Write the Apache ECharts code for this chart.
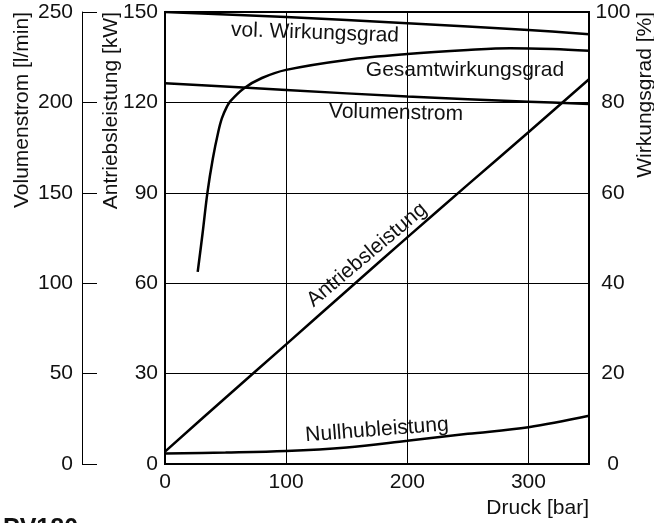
<!DOCTYPE html>
<html>
<head>
<meta charset="utf-8">
<style>
  html, body { margin: 0; padding: 0; background: #fff; }
  #chart { width: 654px; height: 523px; }
</style>
<script src="https://cdn.jsdelivr.net/npm/echarts@6/dist/echarts.min.js"></script>
</head>
<body>
<div id="chart"></div>
<script>
/* ---------- data ---------- */
const druckTicks = [0, 100, 200, 300]

// vol. Wirkungsgrad [%]
const druckVol = [0, 100, 200, 300, 350]
const volWirkungsgrad = [100, 98.9, 97.5, 96.0, 95.1]

// Gesamtwirkungsgrad [%]
const druckGesamt = [27, 31, 35, 39.5, 44, 47, 51, 54, 65, 80, 100, 150, 200, 250, 285, 320, 350]
const gesamtWirkungsgrad = [42.5, 51, 60, 67.6, 73.5, 76.5, 79, 80.3, 83.1, 85.4, 87.2, 89.4, 90.7, 91.6, 92.0, 91.8, 91.4]

// Volumenstrom [l/min]
const druckStrom = [0, 100, 200, 300, 350]
const volumenstrom = [210.6, 206.9, 203.2, 200.4, 199.1]

// Antriebsleistung [kW]
const druckLeistung = [0, 50, 100, 150, 200, 250, 300, 350]
const antriebsleistung = [4.1, 22, 39.7, 57.5, 75.2, 92.7, 110.1, 127.7]

// Nullhubleistung [kW]
const nullhubleistung = [3.5, 3.8, 4.3, 5.5, 7.7, 10.0, 12.2, 16.0]

/* ---------- style ---------- */
const FONT = '"Liberation Sans", Arial, Helvetica, sans-serif'
const FS = 21
const INK = '#111'

const pairs = (xs, ys) => xs.map((x, i) => [x, ys[i]])

function curve(name, data, yAxisIndex) {
  return {
    name,
    type: 'line',
    yAxisIndex,
    data,
    smooth: 0.35,
    symbol: 'none',
    lineStyle: { color: '#000', width: 2.5 },
    z: 5
  }
}

function text(str, x, y, opts = {}) {
  return {
    type: 'text',
    x, y,
    rotation: opts.rotation || 0,
    style: {
      text: str,
      font: (opts.bold ? 'bold ' : '') + (opts.size || FS) + 'px ' + FONT,
      fill: INK,
      align: opts.align || 'center',
      verticalAlign: opts.vAlign || 'middle'
    },
    z: 10
  }
}

const chart = echarts.init(document.getElementById('chart'), null, { renderer: 'canvas' })

chart.setOption({
  animation: false,
  backgroundColor: '#fff',
  grid: {
    left: 165, right: 65, top: 12, bottom: 59,
    show: true, borderColor: '#000', borderWidth: 2, backgroundColor: 'transparent'
  },
  xAxis: {
    type: 'value',
    min: 0, max: 350, interval: 100,
    axisLine: { lineStyle: { color: '#000', width: 2 } },
    axisTick: { show: false },
    axisLabel: {
      color: INK, fontFamily: FONT, fontSize: FS, margin: 8,
      showMaxLabel: false,
      formatter: (v) => (druckTicks.includes(v) ? String(v) : '')
    },
    splitLine: { show: true, lineStyle: { color: '#000', width: 1 } }
  },
  yAxis: [
    {
      // Antriebsleistung [kW]
      type: 'value', position: 'left',
      min: 0, max: 150, interval: 30,
      axisLine: { show: true, lineStyle: { color: '#000', width: 2 } },
      axisTick: { show: false },
      axisLabel: { color: INK, fontFamily: FONT, fontSize: FS, margin: 7 },
      splitLine: { show: true, lineStyle: { color: '#000', width: 1 } }
    },
    {
      // Wirkungsgrad [%]
      type: 'value', position: 'right',
      min: 0, max: 100, interval: 20,
      axisLine: { show: true, lineStyle: { color: '#000', width: 2 } },
      axisTick: { show: false },
      axisLabel: { color: INK, fontFamily: FONT, fontSize: FS, margin: 24, align: 'center' },
      splitLine: { show: false }
    },
    {
      // Volumenstrom [l/min]
      type: 'value', position: 'left', offset: 83,
      min: 0, max: 250, interval: 50,
      axisLine: { show: true, lineStyle: { color: '#000', width: 1 } },
      axisTick: { show: true, inside: true, length: 15, lineStyle: { color: '#000', width: 1 } },
      axisLabel: { color: INK, fontFamily: FONT, fontSize: FS, margin: 9 },
      splitLine: { show: false }
    }
  ],
  series: [
    curve('vol. Wirkungsgrad', pairs(druckVol, volWirkungsgrad), 1),
    curve('Gesamtwirkungsgrad', pairs(druckGesamt, gesamtWirkungsgrad), 1),
    curve('Volumenstrom', pairs(druckStrom, volumenstrom), 2),
    curve('Antriebsleistung', pairs(druckLeistung, antriebsleistung), 0),
    curve('Nullhubleistung', pairs(druckLeistung, nullhubleistung), 0)
  ],
  graphic: [
    // axis titles
    text('Volumenstrom [l/min]', 22, 12, { align: 'right', rotation: Math.PI / 2 }),
    text('Antriebsleistung [kW]', 111, 12, { align: 'right', rotation: Math.PI / 2 }),
    text('Wirkungsgrad [%]', 645, 12, { align: 'right', rotation: Math.PI / 2 }),
    text('Druck [bar]', 589, 508, { align: 'right' }),
    // curve labels
    text('vol. Wirkungsgrad', 315, 33, { rotation: -0.035 }),
    text('Gesamtwirkungsgrad', 465, 70),
    text('Volumenstrom', 396, 113, { rotation: -0.02 }),
    text('Antriebsleistung', 367, 255, { rotation: 0.70 }),
    text('Nullhubleistung', 377, 430, { rotation: 0.077 }),
    // model name (cut off at the bottom edge)
    text('PV180', 3, 517, { align: 'left', vAlign: 'top', bold: true, size: 25 })
  ]
})
</script>
</body>
</html>
